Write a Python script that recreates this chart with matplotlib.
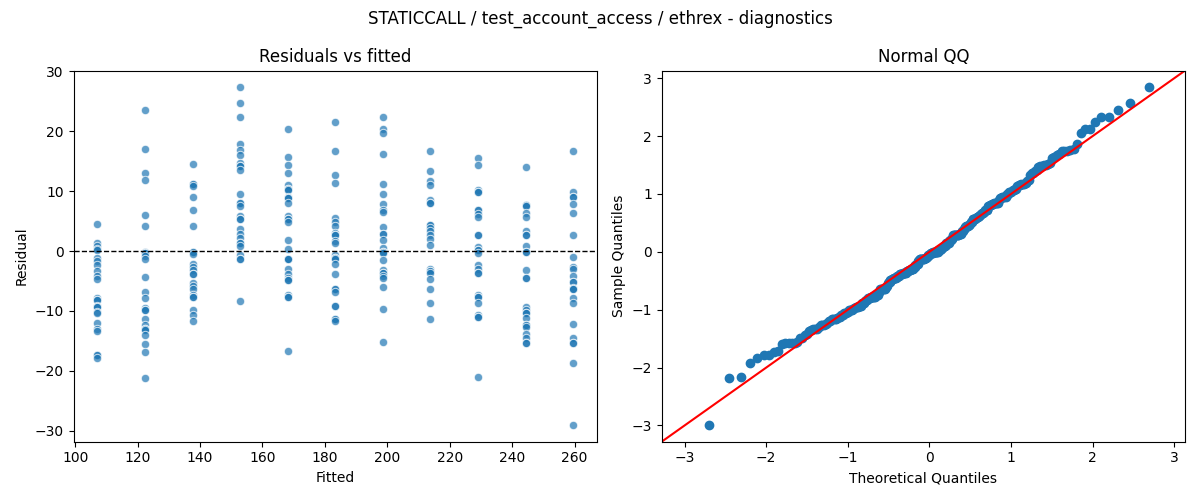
from statistics import NormalDist

import numpy as np
import matplotlib
matplotlib.use('Agg')
from matplotlib import pyplot as plt

title = 'STATICCALL / test_account_access / ethrex - diagnostics'

# fitted value of each group (one per x position)
fitted = [107.1, 122.4, 137.6, 152.9, 168.1, 183.3, 198.6, 213.8, 229.1, 244.3, 259.5]

res_107 = [4.5, 1.4, 0.8, 0.4, 0.1, -1.1, -1.7, -2.3, -3.4, -4.1, -4.7, -7.8, -8.1, -8.1,
           -9.1, -9.3, -9.3, -10.2, -10.4, -12.0, -13.0, -13.4, -17.3, -17.3, -17.8]
res_122 = [23.5, 17.0, 13.0, 11.8, 6.0, 4.2, -0.1, -0.3, -0.3, -0.8, -1.4, -4.3, -6.8, -7.8,
           -9.5, -9.8, -9.8, -11.3, -12.4, -13.0, -13.0, -13.2, -14.0, -15.5, -16.8, -21.2]
res_137 = [14.5, 11.2, 11.2, 10.8, 9.0, 6.8, 4.2, -0.2, -0.2, -0.5, -2.1, -2.6, -3.1, -3.9,
           -3.9, -5.3, -5.9, -6.4, -7.4, -7.7, -7.7, -9.8, -10.6, -11.6]
res_152 = [27.3, 24.7, 22.3, 17.8, 16.9, 16.0, 14.7, 14.2, 14.2, 13.6, 9.5, 8.1, 8.1, 7.6,
           5.8, 5.3, 5.3, 3.7, 2.9, 2.2, 1.4, 1.4, 0.9, -0.7, -1.3, -1.3, -8.3]
res_168 = [20.3, 15.7, 14.4, 13.0, 11.1, 10.4, 10.4, 10.2, 9.1, 8.8, 8.8, 8.0, 5.8, 5.3,
           5.3, 4.9, 1.8, 0.3, -1.3, -1.3, -1.4, -3.0, -3.9, -4.5, -4.8, -4.8, -7.4, -7.6,
           -7.6, -16.7]
res_183 = [21.5, 16.7, 12.7, 11.3, 5.6, 4.8, 4.1, 3.0, 2.7, 2.7, 1.6, 1.3, -0.6, -1.2,
           -1.2, -1.4, -2.1, -3.8, -6.3, -6.3, -6.9, -9.1, -9.1, -11.3, -11.3, -11.6]
res_198 = [22.3, 20.3, 19.7, 16.2, 11.2, 9.5, 7.8, 6.9, 6.6, 4.0, 2.9, 2.9, 1.9, 0.5,
           -0.1, -0.1, -0.3, -1.5, -3.1, -3.6, -3.6, -4.2, -4.5, -6.0, -9.7, -15.2]
res_213 = [16.7, 13.3, 11.7, 11.0, 8.6, 8.1, 8.1, 4.3, 4.3, 3.8, 3.3, 2.7, 2.0, 1.0, -3.0,
           -3.4, -3.4, -3.7, -4.6, -6.3, -8.7, -11.3]
res_229 = [15.5, 14.3, 10.2, 9.8, 9.8, 6.9, 6.9, 6.2, 5.7, 2.7, 2.7, 0.7, 0.2, 0.2, -0.4,
           -2.4, -3.0, -3.7, -3.7, -7.3, -7.7, -7.7, -8.7, -10.6, -11.0, -11.0, -21.0]
res_244 = [14.0, 7.7, 7.7, 7.6, 6.4, 5.7, 3.3, 2.6, 2.6, 0.8, -0.1, -0.1, -3.1, -4.5, -4.5,
           -9.3, -9.9, -10.4, -10.4, -11.2, -12.4, -12.4, -12.7, -13.9, -14.5, -15.3, -15.3]
res_259 = [16.7, 9.8, 9.0, 9.0, 7.8, 6.4, 2.6, -1.0, -2.6, -3.0, -4.2, -5.1, -5.1, -6.2,
           -6.4, -6.4, -7.9, -8.6, -12.2, -14.5, -15.3, -15.3, -18.7, -29.0]

residual_groups = [res_107, res_122, res_137, res_152, res_168, res_183,
                   res_198, res_213, res_229, res_244, res_259]

x_fit = np.concatenate([[f] * len(r) for f, r in zip(fitted, residual_groups)])
resid = np.concatenate(residual_groups)

fig, axes = plt.subplots(1, 2, figsize=(12, 5))

# residuals vs fitted
ax = axes[0]
ax.scatter(x_fit, resid, s=36, color='C0', alpha=0.7, edgecolor='white', linewidth=0.75)
ax.axhline(0, color='black', linestyle='--', linewidth=1)
ax.set_title('Residuals vs fitted')
ax.set_xlabel('Fitted')
ax.set_ylabel('Residual')

# normal QQ of standardised residuals, 45 degree line
ax = axes[1]
n = len(resid)
sample_q = np.sort((resid - resid.mean()) / resid.std())
theo_q = np.array([NormalDist().inv_cdf(i / (n + 1)) for i in range(1, n + 1)])
ax.plot(theo_q, sample_q, marker='o', linestyle='None', color='C0')
lo = min(ax.get_xlim()[0], ax.get_ylim()[0])
hi = max(ax.get_xlim()[1], ax.get_ylim()[1])
ax.plot([lo, hi], [lo, hi], 'r-')
ax.set_xlim(lo, hi)
ax.set_ylim(lo, hi)
ax.set_title('Normal QQ')
ax.set_xlabel('Theoretical Quantiles')
ax.set_ylabel('Sample Quantiles')

fig.suptitle(title)
fig.tight_layout()
fig.savefig('out.png', dpi=100)
